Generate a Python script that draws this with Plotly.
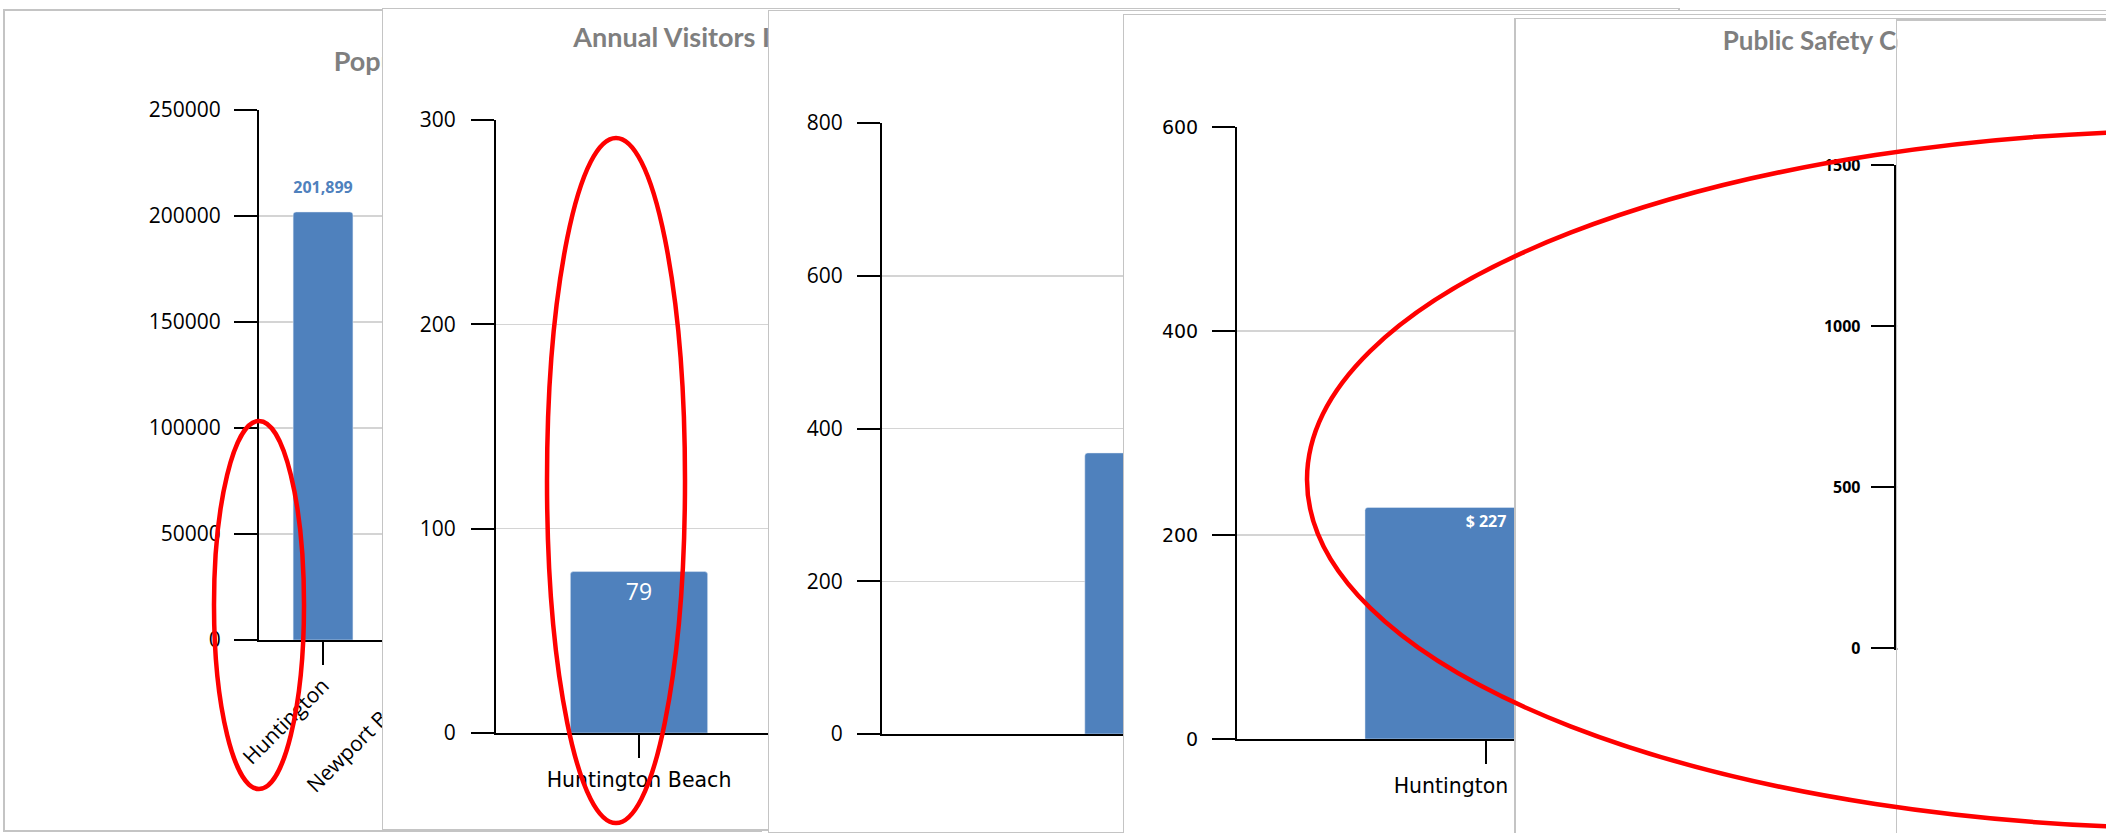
import plotly.graph_objects as go

W, H = 2106, 833

# ---------------- data ----------------
pop_cities = ["Huntington", "Newport Beach"]
pop_values = [201899, None]
pop_ticks = [0, 50000, 100000, 150000, 200000, 250000]

visitor_cities = ["Huntington Beach"]
visitor_values = [79]
visitor_ticks = [0, 100, 200, 300]

chart3_cities = ["Huntington Beach"]
chart3_values = [368]
chart3_ticks = [0, 200, 400, 600, 800]

cost_cities = ["Huntington Beach"]
cost_values = [227]
cost_ticks = [0, 200, 400, 600]

safety_ticks = [0, 500, 1000, 1500]

panel_titles = ["Population", "Annual Visitors In Millions", "Public Safety Costs"]

# ---------------- styling helpers ----------------
BAR = "#4f81bd"
BORDER = "#c4c4c4"
GRID = "#d4d4d4"
TITLE_GRAY = "#7f7f7f"


def xdom(a, b):
    return [max(0.0, a / W), min(1.0, b / W)]


def ydom(top, bottom):
    return [max(0.0, 1 - bottom / H), min(1.0, 1 - top / H)]


def xid(n):
    return "x" if n == 1 else f"x{n}"


def yid(n):
    return "y" if n == 1 else f"y{n}"


def key(prefix, n):
    return f"{prefix}axis" if n == 1 else f"{prefix}axis{n}"


layout = dict(
    width=W, height=H,
    margin=dict(l=0, r=0, t=0, b=0, autoexpand=False),
    paper_bgcolor="white", plot_bgcolor="white",
    showlegend=False, hovermode=False,
)
traces = []

# full-page base subplot (invisible) so every panel stacks over it
layout[key("x", 1)] = dict(domain=[0, 1], range=[0, 1], visible=False,
                           automargin=False, fixedrange=True)
layout[key("y", 1)] = dict(domain=[0, 1], range=[0, 1], visible=False,
                           automargin=False, fixedrange=True)
traces.append(go.Scatter(x=[], y=[], xaxis="x", yaxis="y", hoverinfo="skip"))


def add_frame(n, left, right, top, bottom, right_line=True,
              title=None, tcenter=None, tstand=0, tsize=26):
    xa = dict(domain=xdom(left, right), range=[0, 1], anchor=yid(n),
              showgrid=False, zeroline=False, showline=True, mirror=True,
              linecolor=BORDER, linewidth=1.5, ticks="", showticklabels=False,
              fixedrange=True, automargin=False)
    if title:
        xa.update(side="top", showticklabels=True, tickmode="array",
                  tickvals=[(tcenter - left) / (right - left)], ticktext=[title],
                  ticklabelposition="inside", ticklabeloverflow="allow",
                  ticklabelstandoff=tstand,
                  tickfont=dict(family="Lato", size=tsize, color=TITLE_GRAY,
                                weight="bold"))
    ya = dict(domain=ydom(top, bottom), range=[0, 1], anchor=xid(n),
              showgrid=False, zeroline=False, showline=True, mirror=right_line,
              linecolor=BORDER, linewidth=1.5, ticks="", showticklabels=False,
              fixedrange=True, automargin=False)
    layout[key("x", n)] = xa
    layout[key("y", n)] = ya
    traces.append(go.Scatter(x=[], y=[], xaxis=xid(n), yaxis=yid(n),
                             hoverinfo="skip", showlegend=False))


def chart_axes(n, left, right, xrange, cats, top, bottom, yrange, yticks,
               xfont=None, yfont=None, tickangle=0, xstand=0, ystand=0,
               yformat="d", xlabels=True):
    layout[key("x", n)] = dict(
        domain=xdom(left, right), anchor=yid(n), type="category",
        categoryorder="array", categoryarray=cats, range=xrange,
        showgrid=False, zeroline=False, showline=True, linecolor="black",
        linewidth=2, ticks="outside", ticklen=23, tickwidth=2,
        tickcolor="black", tickangle=tickangle, tickfont=xfont,
        showticklabels=xlabels,
        ticklabelstandoff=xstand, fixedrange=True, automargin=False)
    layout[key("y", n)] = dict(
        domain=ydom(top, bottom), anchor=xid(n), range=yrange,
        tickmode="array", tickvals=yticks, tickformat=yformat,
        showgrid=True, gridcolor=GRID, gridwidth=1.5, zeroline=False,
        showline=True, linecolor="black", linewidth=2, ticks="outside",
        ticklen=23, tickwidth=2, tickcolor="black", tickfont=yfont,
        ticklabelstandoff=ystand, fixedrange=True, automargin=False)


tickfont_main = dict(family="Open Sans", size=21, color="black")
wide_font = dict(family="DejaVu Sans", size=20.5, color="black")

# ---- panel 1 : Population ----
add_frame(2, 4.5, 760, 10.7, 830, title=panel_titles[0], tcenter=399,
          tstand=44, tsize=27)
chart_axes(3, 259, 259 + 2.196 * 92, [-0.696, 1.5], pop_cities, 110, 640,
           [0, 250000], pop_ticks, xfont=tickfont_main, yfont=tickfont_main,
           tickangle=-45, ystand=9)
traces.append(go.Bar(
    x=pop_cities, y=pop_values, xaxis="x3", yaxis="y3", width=0.65,
    marker=dict(color=BAR, cornerradius=3)))
# value label above the bar (invisible anchor marker sets the offset)
traces.append(go.Scatter(
    x=pop_cities, y=pop_values, xaxis="x3", yaxis="y3",
    mode="markers+text", texttemplate="%{y:,}", textposition="top center",
    marker=dict(size=23, opacity=0, color="white"), cliponaxis=False,
    textfont=dict(family="Open Sans", size=16, color=BAR, weight="bold"),
    hoverinfo="skip"))

# ---- panel 2 : Annual visitors ----
add_frame(4, 383, 1678, 9, 829.3, title=panel_titles[1], tcenter=730,
          tstand=22, tsize=27)
chart_axes(5, 496, 496 + 2 * 286, [-0.5, 1.5], visitor_cities, 120, 733,
           [0, 300], visitor_ticks, xfont=wide_font, yfont=tickfont_main,
           xstand=4, ystand=11)
traces.append(go.Bar(
    x=visitor_cities, y=visitor_values, xaxis="x5", yaxis="y5", width=0.48,
    marker=dict(color=BAR, cornerradius=3),
    texttemplate="%{y}", textposition="inside", insidetextanchor="end",
    insidetextfont=dict(family="Open Sans", size=23, color="white")))

# ---- panel 3 ----
add_frame(6, 769, W, 11, 832, right_line=False)
chart_axes(7, 882, 882 + 780, [-0.5, 0.5], chart3_cities, 123, 734,
           [0, 800], chart3_ticks, xfont=wide_font, yfont=tickfont_main,
           ystand=10)
traces.append(go.Bar(
    x=chart3_cities, y=chart3_values, xaxis="x7", yaxis="y7", width=0.48,
    marker=dict(color=BAR, cornerradius=3)))

# ---- panel 4 ----
add_frame(8, 1124, W, 15, H, right_line=False)
chart_axes(9, 1237, 1237 + 498, [-0.5, 0.5], cost_cities, 127, 739,
           [0, 600], cost_ticks, xfont=wide_font,
           yfont=dict(family="DejaVu Sans", size=19, color="black"),
           xstand=4, ystand=10)
traces.append(go.Bar(
    x=cost_cities, y=cost_values, xaxis="x9", yaxis="y9", width=0.486,
    marker=dict(color=BAR, cornerradius=3),
    texttemplate="$ %{y}", textposition="inside", insidetextanchor="end",
    insidetextfont=dict(family="Open Sans", size=16, color="white",
                        weight="bold")))

# ---- panel 5 : Public safety ----
add_frame(10, 1515.5, W, 19, H, right_line=False,
          title=panel_titles[2], tcenter=1833, tstand=15)
chart_axes(11, 1895.7, 2060, [-0.5, 0.5], ["Huntington Beach"], 165, 648,
           [0, 1500], safety_ticks, xlabels=False, ystand=7,
           yfont=dict(family="Open Sans", size=16, color="black",
                      weight="bold"))
traces.append(go.Bar(x=[], y=[], xaxis="x11", yaxis="y11",
                     marker=dict(color=BAR)))

# ---- panel 6 ----
add_frame(12, 1897.3, W, 20.7, H, right_line=False)

# ---- red highlight ellipses ----
ellipses = [(214, 304, 421, 789), (547, 685, 138, 823), (1307, 3106, 130.5, 828.5)]
shapes = []
for (x0, x1, y0, y1) in ellipses:
    shapes.append(dict(type="circle", xref="paper", yref="paper",
                       x0=x0 / W, x1=x1 / W, y0=1 - y1 / H, y1=1 - y0 / H,
                       line=dict(color="#ff0000", width=4.5),
                       fillcolor="rgba(0,0,0,0)", layer="above"))
layout["shapes"] = shapes

fig = go.Figure(data=traces, layout=layout)
fig.write_html(
    "out.html",
    config={"displayModeBar": False, "staticPlot": True},
    post_script="document.body.style.margin='0px';document.body.style.padding='0px';",
)
